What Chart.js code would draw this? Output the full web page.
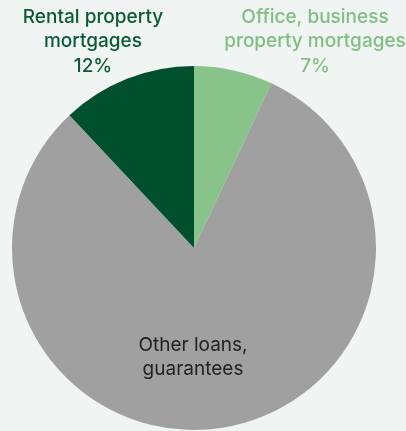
<!DOCTYPE html>
<html>
<head>
<meta charset="utf-8">
<script src="https://cdn.jsdelivr.net/npm/chart.js@4"></script>
<style>
  html, body { margin: 0; padding: 0; background: #f0f4f2; }
  #pie { display: block; }
</style>
</head>
<body>
<canvas id="pie" width="406" height="431"></canvas>
<script>
// loan book split, clockwise from 12 o'clock
var categories = ['Office, business property mortgages', 'Other loans, guarantees', 'Rental property mortgages'];
var shares = [7, 81, 12];
var sliceColors = ['#88c48a', '#a0a0a0', '#00502d'];

// text blocks drawn around / on the pie
var labelLines = [
    ['Office, business', 'property mortgages', '7%'],
    ['Other loans,', 'guarantees'],
    ['Rental property', 'mortgages', '12%']
];
var labelColors = ['#80bf82', '#222222', '#0b5a34'];
var labelWeights = ['500', '400', '500'];
var labelPos = [[315, 17], [193, 345], [93, 17]];

var labelPlugin = {
    id: 'sliceLabels',
    afterDraw: function (chart) {
        var ctx = chart.ctx;
        ctx.save();
        ctx.textAlign = 'center';
        ctx.textBaseline = 'middle';
        labelLines.forEach(function (lines, i) {
            ctx.font = labelWeights[i] + ' 19px Inter';
            ctx.fillStyle = labelColors[i];
            lines.forEach(function (t, j) {
                ctx.fillText(t, labelPos[i][0], labelPos[i][1] + j * 24.5);
            });
        });
        ctx.restore();
    }
};

new Chart('pie', {
    type: 'pie',
    data: {
        labels: categories,
        datasets: [{
            data: shares,
            backgroundColor: sliceColors,
            borderWidth: 0
        }]
    },
    options: {
        responsive: false,
        animation: false,
        layout: { padding: { left: 12, right: 30, top: 66, bottom: 1 } },
        plugins: {
            legend: { display: false },
            tooltip: { enabled: false }
        }
    },
    plugins: [labelPlugin]
});
</script>
</body>
</html>
